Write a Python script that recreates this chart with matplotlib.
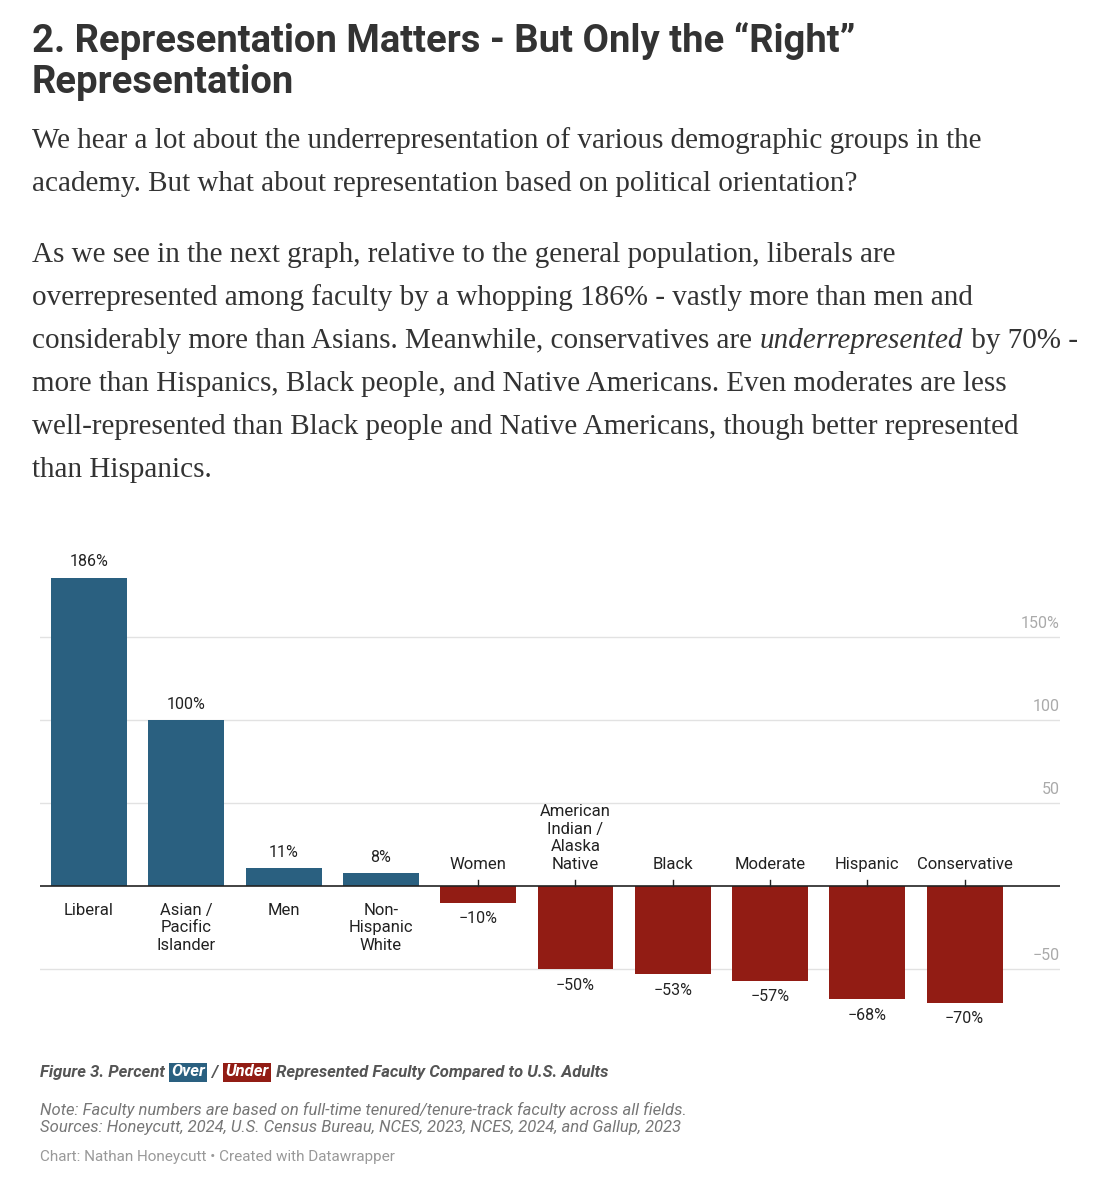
import matplotlib.pyplot as plt

categories = ["Liberal", "Asian /\nPacific\nIslander", "Men", "Non-\nHispanic\nWhite", "Women",
              "American\nIndian /\nAlaska\nNative", "Black", "Moderate", "Hispanic", "Conservative"]
values = [186, 100, 11, 8, -10, -50, -53, -57, -68, -70]
grid_vals = [150, 100, 50, -50]
grid_labels = ["150%", "100", "50", "\u221250"]

BLUE = "#2a6080"
RED = "#921c14"
SERIF = "Liberation Serif"
BS = 21

fig = plt.figure(figsize=(11.04, 12), dpi=100)
fig.canvas.draw()
r = fig.canvas.get_renderer()

# article header
fig.text(32/1104, 1 - 22/1200, "2. Representation Matters - But Only the \u201cRight\u201d\nRepresentation",
         fontsize=27.5, fontweight="bold", family="Roboto", color="#333333", va="top", linespacing=1.15)

# body, one line at a time (line 3 mixes italic)
lines = [
    (148, ["We hear a lot about the underrepresentation of various demographic groups in the"]),
    (191, ["academy. But what about representation based on political orientation?"]),
    (262, ["As we see in the next graph, relative to the general population, liberals are"]),
    (305, ["overrepresented among faculty by a whopping 186% - vastly more than men and"]),
    (348, ["considerably more than Asians. Meanwhile, conservatives are ", ("underrepresented",), " by 70% -"]),
    (391, ["more than Hispanics, Black people, and Native Americans. Even moderates are less"]),
    (434, ["well-represented than Black people and Native Americans, though better represented"]),
    (477, ["than Hispanics."]),
]
for yb, parts in lines:
    xpos = 32
    for p in parts:
        ital = isinstance(p, tuple)
        s = p[0] if ital else p
        t = fig.text(xpos/1104, 1 - yb/1200, s, fontsize=BS, family=SERIF, color="#333333",
                     style="italic" if ital else "normal", va="baseline")
        xpos = t.get_window_extent(r).x1 + (1 if ital else 0)

# chart
ax = fig.add_axes([40/1104, 0.134, 1020/1104, 0.415])
x = list(range(len(values)))
colors = [BLUE if v > 0 else RED for v in values]
ax.bar(x, values, width=0.78, color=colors, zorder=2)
ax.set_xlim(-0.504, 9.98)
ax.set_ylim(-92, 208)
for g, lab in zip(grid_vals, grid_labels):
    ax.axhline(g, color="#e2e2e2", lw=1, zorder=0)
    ax.text(9.98, g + 4, lab, ha="right", va="bottom", fontsize=11.5, color="#aaaaaa", family="Roboto")
ax.axhline(0, color="#222222", lw=1.2, zorder=3)

for xi, v, c in zip(x, values, categories):
    lbl = f"{v}%" if v > 0 else f"\u2212{abs(v)}%"
    if v > 0:
        ax.text(xi, v + 5, lbl, ha="center", va="bottom", fontsize=11.5, family="Roboto", color="#222222")
        ax.text(xi, -10, c, ha="center", va="top", fontsize=12, family="Roboto", color="#222222",
                linespacing=1.2)
    else:
        ax.text(xi, v - 5, lbl, ha="center", va="top", fontsize=11.5, family="Roboto", color="#222222")
        ax.text(xi, 9, c, ha="center", va="bottom", fontsize=12, family="Roboto", color="#222222",
                linespacing=1.2)
        ax.plot([xi, xi], [0, 4], color="#222222", lw=1, zorder=3)
for s in ax.spines.values():
    s.set_visible(False)
ax.set_xticks([])
ax.set_yticks([])

# footer
fy = 1 - 1072/1200
t = fig.text(40/1104, fy, "Figure 3. Percent ", fontsize=12, style="italic", fontweight="bold",
             family="Roboto", color="#555555", va="center")
xpos = t.get_window_extent(r).x1 + 2
for word, col, after in [("Over", BLUE, " / "), ("Under", RED, " Represented Faculty Compared to U.S. Adults")]:
    w = fig.text(xpos / 1104, fy, word, fontsize=12, style="italic", fontweight="bold", family="Roboto",
                 color="white", va="center",
                 bbox=dict(boxstyle="square,pad=0.12", fc=col, ec="none"))
    xpos = w.get_window_extent(r).x1 + 3
    a = fig.text(xpos / 1104, fy, after, fontsize=12, style="italic", fontweight="bold", family="Roboto",
                 color="#555555", va="center")
    xpos = a.get_window_extent(r).x1 + 3

fig.text(40/1104, 1 - 1102/1200,
         "Note: Faculty numbers are based on full-time tenured/tenure-track faculty across all fields.\n"
         "Sources: Honeycutt, 2024, U.S. Census Bureau, NCES, 2023, NCES, 2024, and Gallup, 2023",
         fontsize=12, style="italic", family="Roboto", color="#777777", va="top", linespacing=1.15)
fig.text(40/1104, 1 - 1150/1200, "Chart: Nathan Honeycutt \u2022 Created with Datawrapper",
         fontsize=11, family="Roboto", color="#999999", va="top")

fig.savefig("out.png", dpi=100, facecolor="white")
